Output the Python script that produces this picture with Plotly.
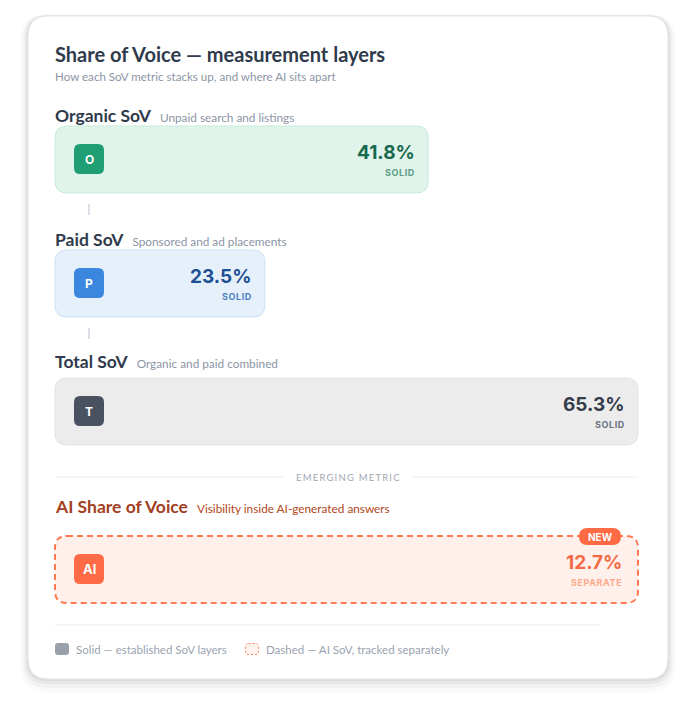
import plotly.graph_objects as go

# ---------------- data ----------------
metrics = ["Organic SoV", "Paid SoV", "Total SoV", "AI Share of Voice"]
descriptions = ["Unpaid search and listings", "Sponsored and ad placements",
                "Organic and paid combined", "Visibility inside AI-generated answers"]
values = [41.8, 23.5, 65.3, 12.7]
icons = ["O", "P", "T", "AI"]
tags = ["SOLID", "SOLID", "SOLID", "SEPARATE"]
title = "Share of Voice — measurement layers"
subtitle = "How each SoV metric stacks up, and where AI sits apart"
divider_label = "EMERGING METRIC"
badge = "NEW"
legend_labels = ["Solid — established SoV layers", "Dashed — AI SoV, tracked separately"]

# ---------------- styles ----------------
W, H = 696, 719
OFF = 8                                  # page body margin
TRACK_L, TRACK_W = 55, 583
k = TRACK_W / max(values[:3])            # px per percentage point
fills = ["#e0f4ec", "#e6f0fb", "#ececec", "#fff0eb"]
borders = ["#c6ebdb", "#cde0f5", "#e1e2e6", "#ff7a52"]
icon_cols = ["#1f9e73", "#3b86de", "#4a5262", "#ff6b45"]
val_cols = ["#17694d", "#1d4f94", "#353c4a", "#f26a45"]
tag_cols = ["#5a9c82", "#4a82c2", "#6b7280", "#ffa98c"]
label_cols = ["#2f3a4c", "#2f3a4c", "#2f3a4c", "#a3401f"]
desc_cols = ["#8b95a5", "#8b95a5", "#8b95a5", "#b04620"]
label_y = [116, 240, 362, 507]
bar_top = [126, 250, 378, 536]
BAR_H = 67
LABEL_FONT = "Lato, 'Noto Sans', sans-serif"
NUM_FONT = "Inter, 'Noto Sans', sans-serif"
TX = 53                                   # text left edge (compensates annotation padding)


def rr(x0, x1, y0, y1, rx, ry):
    return (f"M{x0+rx},{y0} L{x1-rx},{y0} Q{x1},{y0} {x1},{y0+ry} "
            f"L{x1},{y1-ry} Q{x1},{y1} {x1-rx},{y1} L{x0+rx},{y1} "
            f"Q{x0},{y1} {x0},{y1-ry} L{x0},{y0+ry} Q{x0},{y0} {x0+rx},{y0} Z")


def P(px):
    return (px - OFF) / W


def Pr(d):
    return d / W


shapes = []
annotations = []

# card shadow + card
for grow, dy, a in [(8, 6, 0.025), (5, 4, 0.035), (3, 2, 0.05), (1, 1, 0.06)]:
    shapes.append(dict(type="path", xref="paper", yref="y",
                       path=rr(P(28 - grow), P(668 + grow), 16 - grow + dy, 679 + grow + dy,
                               Pr(20 + grow), 20 + grow),
                       fillcolor=f"rgba(30,41,59,{a})", line=dict(width=0), layer="below"))
shapes.append(dict(type="path", xref="paper", yref="y",
                   path=rr(P(28), P(668), 16, 679, Pr(20), 20),
                   fillcolor="#ffffff", line=dict(color="#e3e5ea", width=1), layer="below"))

# title
annotations.append(dict(xref="paper", yref="y", x=P(TX), y=54, xanchor="left", yanchor="middle",
                        text=f"<b>{title}</b>", showarrow=False,
                        font=dict(family=LABEL_FONT, size=20, color="#2f3a4c")))
annotations.append(dict(xref="paper", yref="y", x=P(TX), y=76, xanchor="left", yanchor="middle",
                        text=subtitle, showarrow=False,
                        font=dict(family=LABEL_FONT, size=11.6, color="#8b95a5")))

# bars / rows
for i in range(4):
    is_ai = i == 3
    x_end = max(values[:3]) if is_ai else values[i]
    y0, y1 = bar_top[i], bar_top[i] + BAR_H
    r = 12
    shapes.append(dict(type="path", xref="x", yref="y",
                       path=rr(0, x_end, y0, y1, r / k, r),
                       fillcolor=fills[i],
                       line=dict(color=borders[i], width=2 if is_ai else 1,
                                 dash="6px,4px" if is_ai else "solid"),
                       layer="below"))
    # icon
    shapes.append(dict(type="path", xref="paper", yref="y",
                       path=rr(P(74), P(104), y0 + 18, y0 + 48, Pr(6), 6),
                       fillcolor=icon_cols[i], line=dict(width=0), layer="above"))
    annotations.append(dict(xref="paper", yref="y", x=P(89), y=y0 + 33, xanchor="center",
                            yanchor="middle", text=f"<b>{icons[i]}</b>", showarrow=False,
                            font=dict(family=NUM_FONT, size=13 if is_ai else 12, color="#ffffff")))
    # value and tag
    xs = -14 if is_ai else -11
    annotations.append(dict(xref="x", yref="y", x=x_end, y=y0 + 26, xshift=xs,
                            xanchor="right", yanchor="middle",
                            text=f"<b>{values[i]:.1f}%</b>", showarrow=False,
                            font=dict(family=NUM_FONT, size=19, color=val_cols[i])))
    annotations.append(dict(xref="x", yref="y", x=x_end, y=y0 + 46, xshift=xs,
                            xanchor="right", yanchor="middle",
                            text=f"<b><span style='letter-spacing:0.6px'>{tags[i]}</span></b>",
                            showarrow=False,
                            font=dict(family=NUM_FONT, size=9, color=tag_cols[i])))
    # label
    annotations.append(dict(xref="paper", yref="y", x=P(TX), y=label_y[i] - 0.5, xanchor="left",
                            yanchor="middle", showarrow=False,
                            text=(f"<b>{metrics[i]}</b>  "
                                  f"<span style='font-size:11.8px;color:{desc_cols[i]}'>{descriptions[i]}</span>"),
                            font=dict(family=LABEL_FONT, size=17.5, color=label_cols[i])))

# connectors
for yb in [bar_top[0] + BAR_H, bar_top[1] + BAR_H]:
    shapes.append(dict(type="line", xref="paper", yref="y", x0=P(89), x1=P(89),
                       y0=yb + 11, y1=yb + 22, line=dict(color="#cfd4dc", width=1.5)))

# divider
shapes.append(dict(type="line", xref="paper", yref="y", x0=P(55), x1=P(284), y0=477, y1=477,
                   line=dict(color="#eceef2", width=1)))
shapes.append(dict(type="line", xref="paper", yref="y", x0=P(412), x1=P(638), y0=477, y1=477,
                   line=dict(color="#eceef2", width=1)))
annotations.append(dict(xref="paper", yref="y", x=P(348), y=477, xanchor="center", yanchor="middle",
                        showarrow=False,
                        text=f"<span style='letter-spacing:1.2px'>{divider_label}</span>",
                        font=dict(family=LABEL_FONT, size=9.5, color="#a0a8b4")))

# NEW badge
shapes.append(dict(type="path", xref="paper", yref="y",
                   path=rr(P(579), P(621), 528, 545, Pr(8.5), 8.5),
                   fillcolor="#ff6b45", line=dict(width=0), layer="above"))
annotations.append(dict(xref="paper", yref="y", x=P(600), y=536.5, xanchor="center", yanchor="middle",
                        showarrow=False, text=f"<b>{badge}</b>",
                        font=dict(family=NUM_FONT, size=10, color="#ffffff")))

# footer line
shapes.append(dict(type="line", xref="paper", yref="y", x0=P(55), x1=P(600), y0=625, y1=625,
                   line=dict(color="#f1f2f4", width=1.5), layer="above"))

# legend
shapes.append(dict(type="path", xref="paper", yref="y",
                   path=rr(P(55), P(69), 643, 655, Pr(3), 3),
                   fillcolor="#9aa1ad", line=dict(width=0), layer="above"))
shapes.append(dict(type="path", xref="paper", yref="y",
                   path=rr(P(245.5), P(258.5), 643.5, 654.5, Pr(3), 3),
                   fillcolor="#fff3ee", line=dict(color="#ff7a52", width=1, dash="2px,2px"),
                   layer="above"))
annotations.append(dict(xref="paper", yref="y", x=P(74), y=649, xanchor="left", yanchor="middle",
                        showarrow=False, text=legend_labels[0],
                        font=dict(family=LABEL_FONT, size=11.5, color="#9aa3b0")))
annotations.append(dict(xref="paper", yref="y", x=P(264), y=649, xanchor="left", yanchor="middle",
                        showarrow=False, text=legend_labels[1],
                        font=dict(family=LABEL_FONT, size=11.5, color="#9aa3b0")))

fig = go.Figure()
fig.add_trace(go.Scatter(x=[None], y=[None], showlegend=False, hoverinfo="skip"))
fig.update_layout(
    width=W, height=H, margin=dict(l=0, r=0, t=0, b=0),
    paper_bgcolor="#ffffff", plot_bgcolor="rgba(0,0,0,0)",
    xaxis=dict(range=[-(TRACK_L - OFF) / k, (W - (TRACK_L - OFF)) / k], visible=False, fixedrange=True),
    yaxis=dict(range=[H + OFF, OFF], visible=False, fixedrange=True),
    shapes=shapes, annotations=annotations, showlegend=False,
)
fig.write_html("out.html")
